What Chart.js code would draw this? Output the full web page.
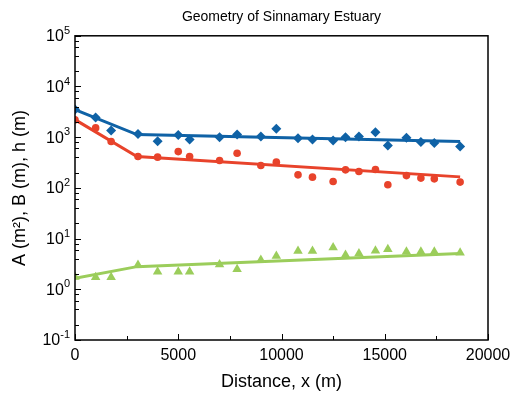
<!DOCTYPE html>
<html>
<head>
<meta charset="utf-8">
<script src="https://cdn.jsdelivr.net/npm/chart.js@4.4.0/dist/chart.umd.min.js"></script>
<style>
html, body { margin: 0; padding: 0; background: #fff; }
#wrap { width: 518px; height: 401px; }
</style>
</head>
<body>
<div id="wrap"><canvas id="geoChart"></canvas></div>
<script>
// distance along the estuary (m), shared by the three measured series
var distance = [0, 1000, 1750, 3050, 4000, 5000, 5550, 7000, 7850, 9000, 9750,
                10800, 11500, 12500, 13100, 13750, 14550, 15150, 16050, 16750, 17400, 18650];
var areaA  = [3500, 2460, 1350, 1160, 835, 1110, 900, 1000, 1125, 1030, 1460,
              955, 900, 860, 1000, 1030, 1250, 685, 970, 800, 770, 655];
var widthB = [2200, 1525, 820, 415, 404, 520, 415, 346, 484, 276, 322,
              181, 163, 134, 227, 210, 230, 115, 175, 156, 151, 130];
var depthH = [1.75, 1.72, 1.72, 3.0, 2.22, 2.22, 2.22, 3.1, 2.48, 3.77, 4.52,
              5.67, 5.67, 6.7, 4.73, 5.1, 5.75, 6.2, 5.5, 5.5, 5.5, 5.25];

// fitted curves (break at ~3 km)
var fitX = [0, 3000, 18650];
var fitA = [3490, 1125, 820];
var fitB = [2220, 415, 165];
var fitH = [1.65, 2.8, 5.1];

var xTicks = [0, 5000, 10000, 15000, 20000];
var xMinor = [2500, 7500, 12500, 17500];
var yDecades = [-1, 0, 1, 2, 3, 4, 5];
var yMinor = [2, 4, 6, 8];

var BLUE = '#0f62a6', RED = '#e8432b', GREEN = '#9bcd5b';
var FONT = '"Liberation Sans", Arial, sans-serif';

function pts(xs, ys) {
    return xs.map(function (x, i) { return { x: x, y: ys[i] }; });
}

// box, inward ticks and 10^n labels
var framePlugin = {
    id: 'frame',
    afterDraw: function (chart) {
        var ctx = chart.ctx, a = chart.chartArea;
        var xs = chart.scales.x, ys = chart.scales.y;
        ctx.save();
        ctx.strokeStyle = '#000';
        ctx.lineWidth = 1;
        ctx.beginPath();
        yDecades.forEach(function (d) {
            var p = Math.round(ys.getPixelForValue(Math.pow(10, d))) + 0.5;
            ctx.moveTo(a.left, p); ctx.lineTo(a.left + 6, p);
            if (d < 5) {
                yMinor.forEach(function (m) {
                    var q = Math.round(ys.getPixelForValue(m * Math.pow(10, d))) + 0.5;
                    ctx.moveTo(a.left, q); ctx.lineTo(a.left + 4, q);
                });
            }
        });
        xTicks.forEach(function (v) {
            var p = Math.round(xs.getPixelForValue(v)) + 0.5;
            ctx.moveTo(p, a.bottom); ctx.lineTo(p, a.bottom - 6);
        });
        xMinor.forEach(function (v) {
            var p = Math.round(xs.getPixelForValue(v)) + 0.5;
            ctx.moveTo(p, a.bottom); ctx.lineTo(p, a.bottom - 4);
        });
        ctx.stroke();

        ctx.lineWidth = 1.5;
        ctx.strokeRect(a.left, a.top, a.right - a.left, a.bottom - a.top);

        ctx.fillStyle = '#000';
        ctx.textBaseline = 'middle';
        ctx.textAlign = 'left';
        yDecades.forEach(function (d) {
            var p = ys.getPixelForValue(Math.pow(10, d));
            var sup = String(d);
            ctx.font = '11px ' + FONT;
            var wSup = ctx.measureText(sup).width;
            ctx.font = '16px ' + FONT;
            var wBase = ctx.measureText('10').width;
            var right = a.left - 5;
            ctx.fillText('10', right - wSup - wBase, p + 1);
            ctx.font = '11px ' + FONT;
            ctx.fillText(sup, right - wSup, p - 5);
        });
        ctx.restore();
    }
};

var ctx = document.getElementById('geoChart').getContext('2d');
new Chart(ctx, {
    type: 'scatter',
    data: {
        datasets: [
            { label: 'A', data: pts(distance, areaA), pointStyle: 'rectRot', pointRadius: 5,
              backgroundColor: BLUE, borderColor: BLUE, borderWidth: 0 },
            { label: 'B', data: pts(distance, widthB), pointStyle: 'circle', pointRadius: 3.8,
              backgroundColor: RED, borderColor: RED, borderWidth: 0 },
            { label: 'h', data: pts(distance, depthH), pointStyle: 'triangle', pointRadius: 5.5,
              backgroundColor: GREEN, borderColor: GREEN, borderWidth: 0 },
            { label: 'A fit', data: pts(fitX, fitA), showLine: true, pointRadius: 0,
              borderColor: BLUE, borderWidth: 3 },
            { label: 'B fit', data: pts(fitX, fitB), showLine: true, pointRadius: 0,
              borderColor: RED, borderWidth: 3 },
            { label: 'h fit', data: pts(fitX, fitH), showLine: true, pointRadius: 0,
              borderColor: GREEN, borderWidth: 3 }
        ]
    },
    options: {
        responsive: true,
        maintainAspectRatio: false,
        animation: false,
        layout: { padding: { right: 30 } },
        scales: {
            x: {
                type: 'linear',
                min: 0,
                max: 20000,
                afterBuildTicks: function (s) { s.ticks = xTicks.map(function (v) { return { value: v }; }); },
                afterFit: function (s) { s.height = 61; },
                grid: { display: false, drawTicks: false },
                border: { display: false },
                ticks: {
                    padding: 6,
                    color: '#000',
                    font: { family: FONT, size: 16 },
                    callback: function (v) { return String(v); }
                },
                title: {
                    display: true,
                    text: 'Distance, x (m)',
                    color: '#000',
                    font: { family: FONT, size: 18 },
                    padding: { top: 0, bottom: 8 }
                }
            },
            y: {
                type: 'logarithmic',
                min: 0.1,
                max: 100000,
                afterFit: function (s) { s.width = 75; },
                grid: { display: false, drawTicks: false },
                border: { display: false },
                ticks: { display: false },
                title: {
                    display: true,
                    text: 'A (m²), B (m), h (m)',
                    color: '#000',
                    font: { family: FONT, size: 18 },
                    padding: { top: 9, bottom: 0 }
                }
            }
        },
        plugins: {
            legend: { display: false },
            tooltip: { enabled: false },
            title: {
                display: true,
                fullSize: false,
                text: 'Geometry of Sinnamary Estuary',
                color: '#000',
                font: { family: FONT, size: 14, weight: 'normal' },
                padding: { top: 9, bottom: 10 }
            }
        }
    },
    plugins: [framePlugin]
});
</script>
</body>
</html>
